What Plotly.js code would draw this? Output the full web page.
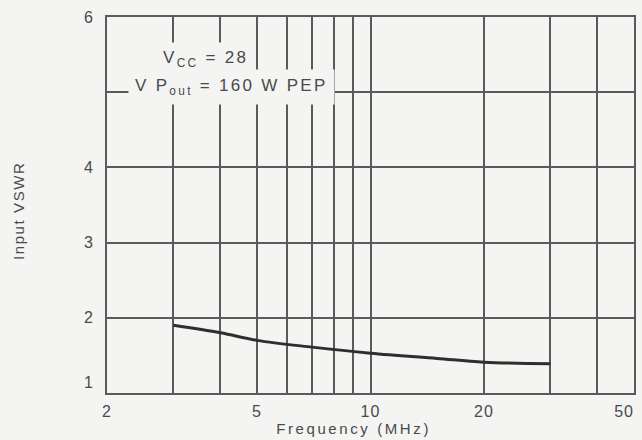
<!DOCTYPE html>
<html><head><meta charset="utf-8">
<script src="https://cdn.plot.ly/plotly-3.0.1.min.js"></script>
<style>
html,body{margin:0;padding:0;background:#f4f4f2;}
.gridlayer path, .xlines-above, .ylines-above, .xlines-below, .ylines-below { shape-rendering: crispEdges; }
.xtitle { letter-spacing: 2.6px; }
.ytitle { letter-spacing: 1.6px; }
.annotation-text { letter-spacing: 2.3px; }
.xtick text, .ytick text { letter-spacing: 1px; }
.xtick:last-of-type text { text-anchor: end; }
</style>
</head><body>
<div id="chart" style="width:642px;height:440px;"></div>
<script>
const freqMHz = [3, 4, 5, 7, 10, 15, 20, 30];
const inputVSWR = [1.90, 1.80, 1.70, 1.61, 1.53, 1.46, 1.41, 1.39];
const xTickVals = [2, 3, 4, 5, 6, 7, 8, 9, 10, 20, 30, 40, 50];
const xTickText = ['2', '', '', '5', '', '', '', '', '10', '20', '', '', '50'];
const yTickVals = [1, 2, 3, 4, 5, 6];
const yTickText = ['1<br> ', '2', '3', '4', '', '6'];

const bg = '#f4f4f2';
const gridC = '#5a5a5a';
const txtC = '#4a4a4a';
const fontF = 'Liberation Sans, Arial, sans-serif';

Plotly.newPlot('chart', [{
  x: freqMHz, y: inputVSWR, mode: 'lines', type: 'scatter',
  line: {color: '#2e2e2e', width: 3, shape: 'spline'}, hoverinfo: 'none'
}], {
  width: 642, height: 440,
  margin: {l: 107, r: 8, t: 17, b: 47},
  paper_bgcolor: bg, plot_bgcolor: bg,
  showlegend: false,
  font: {family: fontF, size: 16, color: txtC},
  xaxis: {
    type: 'log', range: [Math.log10(2), Math.log10(50)],
    tickvals: xTickVals, ticktext: xTickText,
    showgrid: true, gridcolor: gridC, gridwidth: 2,
    showline: true, linecolor: gridC, linewidth: 2, mirror: true,
    ticks: '', ticklabelstandoff: 3, ticklabeloverflow: 'allow', zeroline: false,
    tickfont: {size: 16, color: txtC},
    title: {text: 'Frequency (MHz)&nbsp;&nbsp;&nbsp;&nbsp;&nbsp;', font: {size: 15, color: txtC}, standoff: 2}
  },
  yaxis: {
    range: [1, 6], tickvals: yTickVals, ticktext: yTickText,
    showgrid: true, gridcolor: gridC, gridwidth: 2,
    showline: true, linecolor: gridC, linewidth: 2, mirror: true,
    ticks: '', ticklabelstandoff: 8, zeroline: false,
    tickfont: {size: 16, color: txtC},
    title: {text: 'Input VSWR&nbsp;&nbsp;', font: {size: 15, color: txtC}, standoff: 56}
  },
  annotations: [
    {xref: 'paper', yref: 'paper', x: 0.095, y: 0.888, xanchor: 'left', yanchor: 'middle',
     text: 'V<sub>CC</sub> = 28', showarrow: false, bgcolor: bg, borderpad: 5,
     font: {size: 17, color: txtC, family: fontF}},
    {xref: 'paper', yref: 'paper', x: 0.04, y: 0.815, xanchor: 'left', yanchor: 'middle',
     text: 'V P<sub>out</sub> = 160 W PEP', showarrow: false, bgcolor: bg, borderpad: 6,
     font: {size: 17, color: txtC, family: fontF}}
  ]
}, {displayModeBar: false, staticPlot: true});
</script>
</body></html>
